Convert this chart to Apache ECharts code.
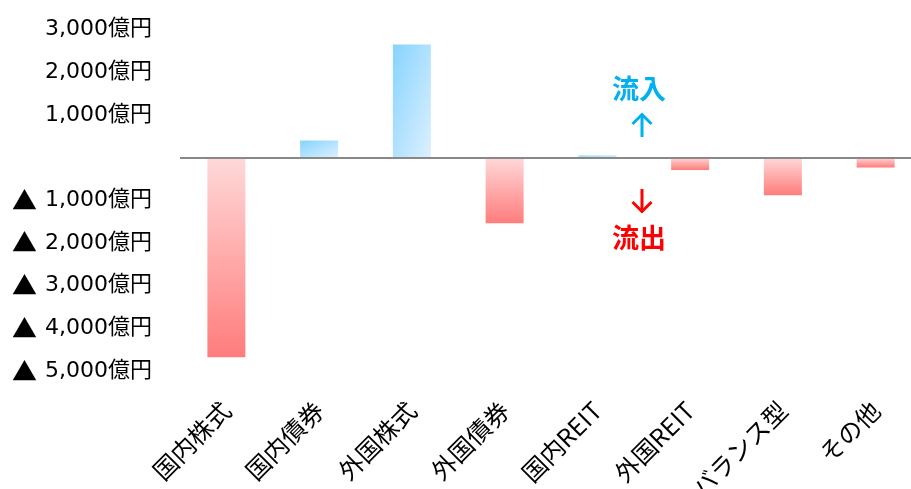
<!DOCTYPE html>
<html>
<head>
<meta charset="utf-8">
<script src="https://cdn.jsdelivr.net/npm/echarts@6/dist/echarts.min.js"></script>
<style>html,body{margin:0;padding:0;background:#fff}#c{width:911px;height:489px}</style>
</head>
<body>
<div id="c"></div>
<script>
const categories = ['国内株式','国内債券','外国株式','外国債券','国内REIT','外国REIT','バランス型','その他'];
const values = [-4680, 400, 2650, -1540, 50, -290, -880, -230];
const yMin = -5000, yMax = 3000, yStep = 1000;
const unit = '億円';

const FONT = '"DejaVu Sans", "Noto Sans CJK JP", sans-serif';
const CJK = '"Noto Sans CJK JP", sans-serif';
const GRID_H = 341.5, BAR_W = 38;

function posGradient(v) {
  // diagonal gradient scaled with the bar's box (isolines along the anti-diagonal)
  const h = Math.max(1, Math.abs(v) * GRID_H / (yMax - yMin));
  const w = BAR_W;
  const s = h * h + w * w;
  return new echarts.graphic.LinearGradient(0, 0, 2 * h * h / s, 2 * w * w / s, [
    {offset: 0, color: '#86D3FF'}, {offset: 1, color: '#DDF0FF'}]);
}
const negColor = new echarts.graphic.LinearGradient(0, 0, 0, 1, [
  {offset: 0, color: '#FFD9D9'}, {offset: 1, color: '#FF7C7C'}]);

const chart = echarts.init(document.getElementById('c'));
chart.setOption({
  animation: false,
  grid: {left: 180, top: 29.5, width: 742, height: GRID_H, containLabel: false, outerBoundsMode: 'none'},
  xAxis: {
    type: 'category', data: categories,
    axisLine: {show: false}, axisTick: {show: false},
    axisLabel: {rotate: 45, margin: 35, fontSize: 24.5, color: '#000', fontFamily: CJK, interval: 0}
  },
  yAxis: {
    type: 'value', min: yMin, max: yMax, interval: yStep,
    splitLine: {show: false}, axisLine: {show: false}, axisTick: {show: false},
    axisLabel: {
      margin: 28, fontSize: 22, color: '#000', fontFamily: FONT,
      formatter: function (v) {
        if (v === 0) return '';
        const s = Math.abs(v).toLocaleString('en-US') + unit;
        return v < 0 ? '{tri|▲} ' + s : s;
      },
      rich: {tri: {fontFamily: CJK, fontSize: 25, color: '#000', padding: [0, 1, 0, 0]}}
    }
  },
  series: [{
    type: 'bar', barWidth: BAR_W,
    data: values.map(v => ({value: v, itemStyle: {color: v >= 0 ? posGradient(v) : negColor}})),
    markLine: {
      silent: true, symbol: 'none', label: {show: false},
      lineStyle: {color: '#888888', width: 2, type: 'solid'},
      data: [{yAxis: 0}]
    }
  }],
  graphic: [
    {type: 'text', left: 612, top: 75, style: {text: '流入', font: 'bold 27px ' + CJK, fill: '#00B0F0'}},
    {type: 'polyline', shape: {points: [[642, 114], [642, 137]]}, style: {stroke: '#00B0F0', lineWidth: 3, fill: null}},
    {type: 'polyline', shape: {points: [[632.5, 124], [642, 114.5], [651.5, 124]]}, style: {stroke: '#00B0F0', lineWidth: 3, fill: null}},
    {type: 'polyline', shape: {points: [[642, 189], [642, 212]]}, style: {stroke: '#FF0000', lineWidth: 3, fill: null}},
    {type: 'polyline', shape: {points: [[632.5, 202], [642, 211.5], [651.5, 202]]}, style: {stroke: '#FF0000', lineWidth: 3, fill: null}},
    {type: 'text', left: 612, top: 224, style: {text: '流出', font: 'bold 27px ' + CJK, fill: '#FF0000'}}
  ]
});
</script>
</body>
</html>
